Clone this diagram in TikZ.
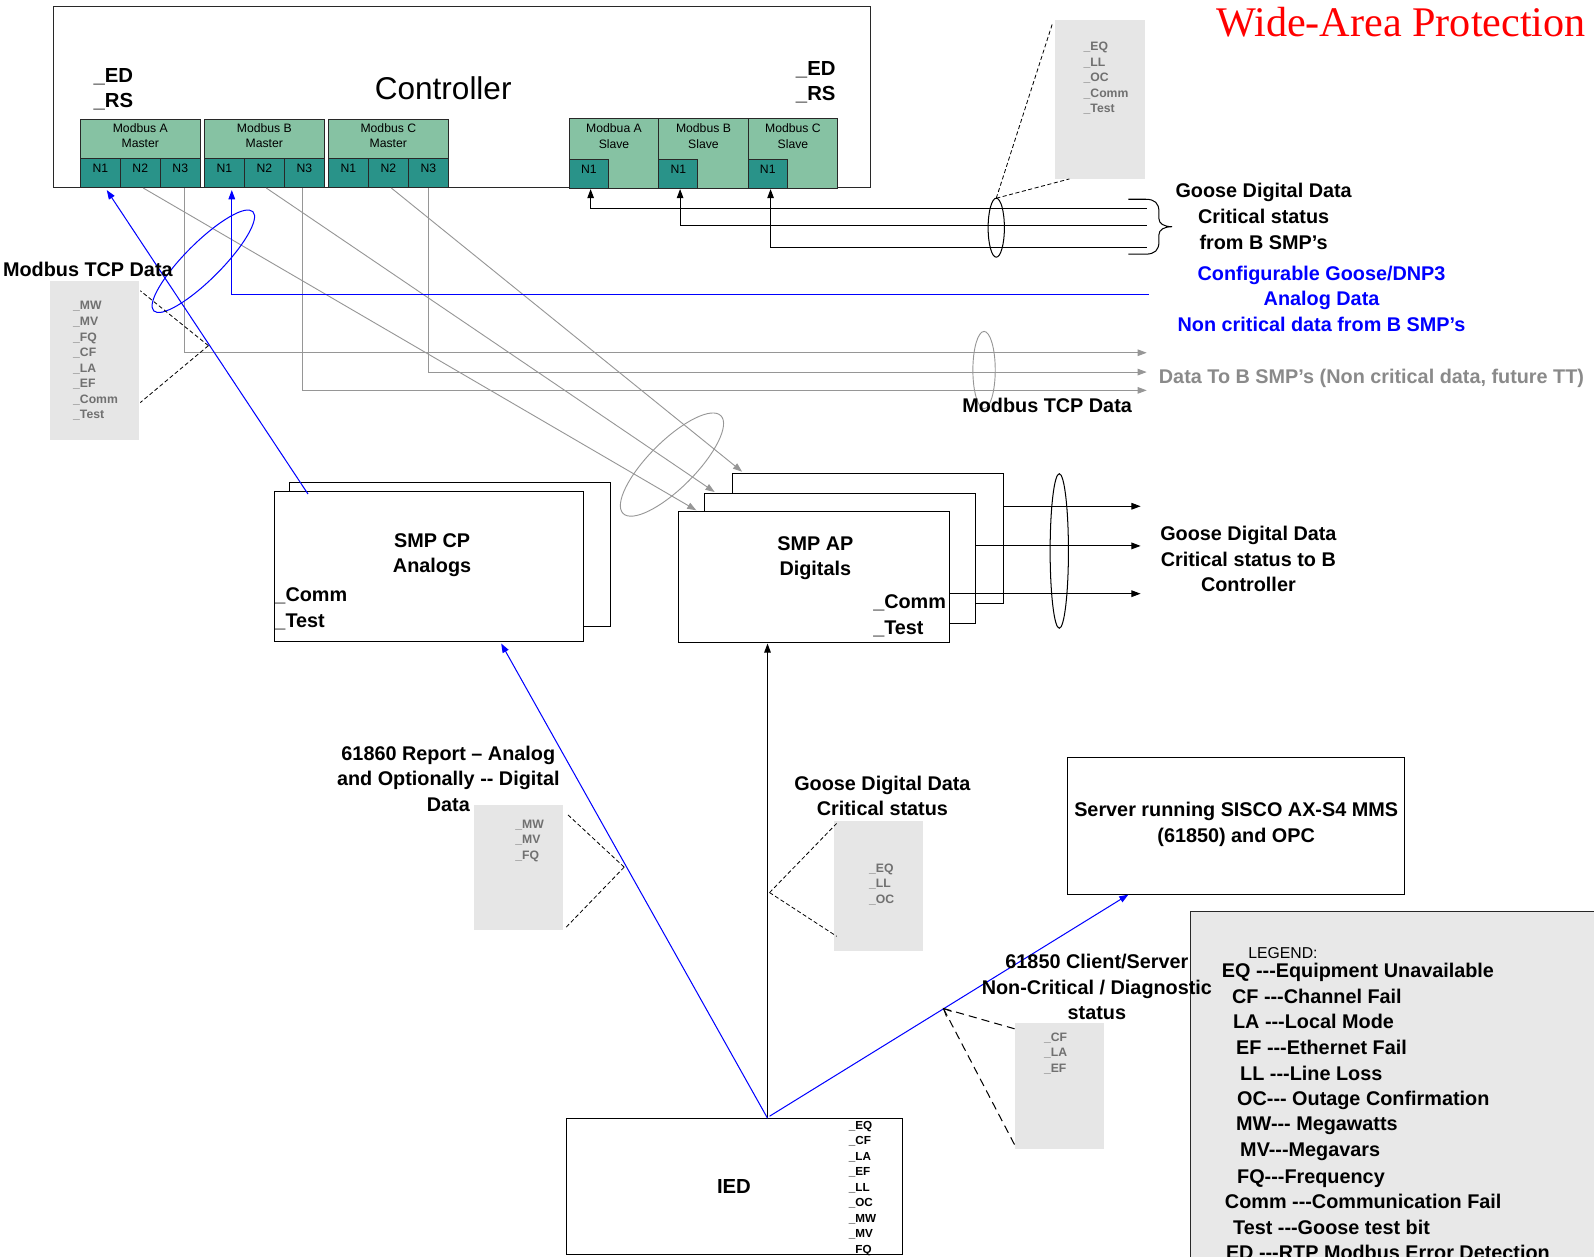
\documentclass[tikz,border=0pt]{standalone}
\usepackage{fontspec}
\setmainfont{Liberation Sans}
\newfontfamily\serifTitle{Liberation Serif}
\usetikzlibrary{arrows.meta,calc}
\definecolor{hdrgreen}{RGB}{134,194,163}
\definecolor{cellteal}{RGB}{41,147,137}
\definecolor{boxgray}{RGB}{230,230,230}
\definecolor{legendgray}{RGB}{232,232,232}
\definecolor{txtgray}{RGB}{112,112,112}
\definecolor{linegray}{RGB}{150,150,150}
\definecolor{datagray}{RGB}{138,138,138}
\definecolor{edgedark}{RGB}{40,40,40}
\newcommand\fLbl{\bfseries\fontsize{19.5}{25.3}\selectfont}
\newcommand\fTiny{\bfseries\fontsize{12}{15.3}\selectfont}
\newcommand\fMod{\fontsize{12}{15}\selectfont}
\begin{document}
\begin{tikzpicture}[x=1pt,y=-1pt,
  every node/.style={inner sep=0pt,outer sep=0pt},
  bx/.style={draw=black,line width=1pt,fill=white,anchor=north west},
  gbx/.style={fill=boxgray,draw=none,anchor=north west},
  hdr/.style={draw=edgedark,line width=0.9pt,fill=hdrgreen,anchor=north west,font=\fMod,align=center,text depth=7pt},
  ncell/.style={draw=edgedark,line width=0.9pt,fill=cellteal,anchor=north west,font=\fMod,minimum width=39.33,minimum height=28,text height=8.6pt,text depth=10pt},
  lbl/.style={font=\fLbl,align=center},
  leg/.style={font=\fLbl,anchor=base west},
  tiny/.style={font=\fTiny,align=left,text=txtgray,anchor=west},
  gline/.style={draw=linegray,line width=0.9pt},
  kline/.style={draw=black,line width=1pt},
  bline/.style={draw=blue,line width=1pt},
  tip/.style={-{Triangle[length=9pt,width=6.5pt]}},
  dsh/.style={draw=black,line width=0.8pt,dash pattern=on 4pt off 2.5pt},
  dshl/.style={draw=black,line width=1pt,dash pattern=on 8pt off 5pt},
]
\useasboundingbox (0,0) rectangle (1568,1236);
\clip (0,0) rectangle (1568,1236);

% ---------- gray annotation boxes and legend ----------
\node[gbx,minimum width=88,minimum height=156] (gTR) at (1038,20) {};
\node[gbx,minimum width=88,minimum height=157] (gTL) at (49,276) {};
\node[gbx,minimum width=88,minimum height=123] (gRep) at (466,792) {};
\node[gbx,minimum width=88,minimum height=127] (gGoose) at (820,808) {};
\node[gbx,minimum width=88,minimum height=124] (gCS) at (998,1006) {};
\node[draw=edgedark,line width=1pt,fill=legendgray,anchor=north west,minimum width=450,minimum height=400] (legend) at (1171,897) {};

% ---------- controller ----------
\node[draw=edgedark,line width=1pt,anchor=north west,minimum width=803,minimum height=178] (ctrl) at (53,6) {};
\node[font=\fontsize{31}{36}\selectfont] (ctrlT) at (436,87) {Controller};
\node[font=\bfseries\fontsize{20}{25}\selectfont,align=left,anchor=west] (edL) at (92,88) {\_ED\\\_RS};
\node[font=\bfseries\fontsize{20}{25}\selectfont,align=left,anchor=west] (edR) at (783,81) {\_ED\\\_RS};

\foreach \n/\x/\lab in {a/79/A,b/201/B,c/323/C}{
  \node[hdr,minimum width=118,minimum height=38] (m\n) at (\x,118) {Modbus \lab\\Master};
  \node[ncell] (m\n1) at (\x,156) {N1};
  \node[ncell] (m\n2) at ({\x+39.33},156) {N2};
  \node[ncell] (m\n3) at ({\x+78.67},156) {N3};
}
\foreach \n/\x/\lab in {a/560/Modbua A,b/648/Modbus B,c/736/Modbus C}{
  \node[hdr,minimum width=88,minimum height=68] (s\n) at (\x,117) {};
  \node[font=\fMod,align=center] (st\n) at ({\x+44},134) {\lab\\Slave};
  \node[ncell,minimum width=38.5] (s\n1) at (\x,157) {N1};
}

% ---------- title ----------
\node[font=\serifTitle\fontsize{41.5}{45}\selectfont,text=red,anchor=base east] (title) at (1560,36) {Wide-Area Protection};

% ---------- SMP, server, IED boxes ----------
\node[bx,minimum width=316,minimum height=141] (cpB) at (285,475) {};
\node[bx,minimum width=304,minimum height=148] (cp) at (270,483) {};
\node[bx,minimum width=266,minimum height=128] (apC) at (721,466) {};
\node[bx,minimum width=267,minimum height=128] (apB) at (693,485) {};
\node[bx,minimum width=267,minimum height=129] (ap) at (667,503) {};
\node[bx,minimum width=332,minimum height=135] (srv) at (1050,745) {};
\node[bx,minimum width=331,minimum height=134] (ied) at (557,1100) {};

% ---------- coordinates for connector ends ----------
\coordinate (iedTop) at (755,1100);
\coordinate (iedTopR) at (757,1098);
\coordinate (cpIn) at (493,633);
\coordinate (apIn) at (755,633);
\coordinate (srvIn) at (1110,880);
\coordinate (cpOut) at (303,486);
\coordinate (maIn) at (105,187);
\coordinate (mbIn) at (228,187);
\coordinate (blueEnd) at (1130,290);

% ---------- gray Modbus TCP data lines ----------
\draw[gline,tip] (181,185) |- (1128,347);
\draw[gline,tip] (421,185) |- (1128,366);
\draw[gline,tip] (298,185) |- (1128,384);
\draw[gline,tip] (141,185) -- (685,502);
\draw[gline,tip] (262,185) -- (703,484);
\draw[gline,tip] (385,185) -- (730,464);
\draw[gline] (968,364) ellipse [x radius=11, y radius=38];
\draw[gline,rotate around={45:(661,457)}] (661,457) ellipse [x radius=68, y radius=23];

% ---------- blue lines ----------
\draw[bline,tip] (cpOut) -- (maIn);
\draw[bline,tip] (blueEnd) -| (mbIn);
\draw[bline,rotate around={45:(200,257)}] (200,257) ellipse [x radius=69, y radius=18];

% ---------- black lines to slaves ----------
\draw[kline,tip] (1128,205) -| (581,186);
\draw[kline,tip] (1128,222) -| (669,186);
\draw[kline,tip] (1128,243) -| (758,186);
\draw[kline] (980,224) ellipse [x radius=8, y radius=29];
\draw[kline] (1110,196) -- (1127,196) .. controls (1136,196) and (1140,200) .. (1140,208) -- (1140,215) .. controls (1140,220) and (1145,223) .. (1153,223) .. controls (1145,223) and (1140,226) .. (1140,231) -- (1140,238) .. controls (1140,246) and (1136,250) .. (1127,250) -- (1110,250);

% ---------- SMP AP outputs ----------
\draw[kline,tip] (apC.east |- 0,498) -- (1122,498);
\draw[kline,tip] (apB.east |- 0,537) -- (1122,537);
\draw[kline,tip] (ap.east |- 0,584) -- (1122,584);
\draw[kline] (1042,542) ellipse [x radius=9, y radius=76];

% ---------- IED connectors ----------
\draw[kline,tip] (iedTop) -- (apIn);
\draw[bline,tip] (iedTop) -- (cpIn);
\draw[bline,tip] (iedTopR) -- (srvIn);

% ---------- dashed callouts ----------
\coordinate (cTR) at (980,195);
\draw[dsh] (cTR) -- (1035,24);
\draw[dsh] (cTR) -- (1052,176);
\coordinate (cTL) at (205,340);
\draw[dsh] (cTL) -- (138,286);
\draw[dsh] (cTL) -- (138,396);
\coordinate (cRep) at (614,853);
\draw[dsh] (cRep) -- (557,800);
\draw[dsh] (cRep) -- (557,912);
\coordinate (cGo) at (757,878);
\draw[dsh] (cGo) -- (823,810);
\draw[dsh] (cGo) -- (823,921);
\coordinate (cCS) at (928,992);
\draw[dshl] (cCS) -- (998,1012);
\draw[dshl] (cCS) -- (998,1126);
\draw[kline,line width=0.8pt] (931,1000) -- (928,992) -- (936,995);

% ---------- gray box texts ----------
\node[tiny] (tTR) at (1066,77) {\_EQ\\\_LL\\\_OC\\\_Comm\\\_Test};
\node[tiny] (tTL) at (72,355) {\_MW\\\_MV\\\_FQ\\\_CF\\\_LA\\\_EF\\\_Comm\\\_Test};
\node[tiny] (tRep) at (507,827) {\_MW\\\_MV\\\_FQ};
\node[tiny] (tGo) at (855,870) {\_EQ\\\_LL\\\_OC};
\node[tiny] (tCS) at (1027,1036) {\_CF\\\_LA\\\_EF};
\node[tiny,text=black,font=\bfseries\fontsize{11.5}{15.2}\selectfont] (tIED) at (835,1169) {\_EQ\\\_CF\\\_LA\\\_EF\\\_LL\\\_OC\\\_MW\\\_MV\\\_FQ};

% ---------- labels ----------
\node[lbl] (lGoTop) at (1243,213) {Goose Digital Data\\Critical status\\from B SMP’s};
\node[lbl,text=blue] (lBlue) at (1300,294) {Configurable Goose/DNP3\\Analog Data\\Non critical data from B SMP’s};
\node[font=\fLbl,text=datagray,anchor=base west] (lData) at (1140,377) {Data To B SMP’s (Non critical data, future TT)};
\node[font=\fLbl,anchor=base] (lTcpR) at (1030,406) {Modbus TCP Data};
\node[font=\fLbl,anchor=base west] (lTcpL) at (3,272) {Modbus TCP Data};
\node[lbl] (lCP) at (425,546) {SMP CP\\Analogs};
\node[font=\fLbl,align=left,anchor=west] (lCPc) at (270,599) {\_Comm\\\_Test};
\node[lbl] (lAP) at (802,549) {SMP AP\\Digitals};
\node[font=\fLbl,align=left,anchor=west] (lAPc) at (859,606) {\_Comm\\\_Test};
\node[lbl] (lGoB) at (1228,550) {Goose Digital Data\\Critical status to B\\Controller};
\node[lbl] (lRep) at (441,766) {61860 Report – Analog\\and Optionally -{}- Digital\\Data};
\node[lbl] (lGoC) at (868,783) {Goose Digital Data\\Critical status};
\node[lbl] (lSrv) at (1216,811) {Server running SISCO AX-S4 MMS\\(61850) and OPC};
\node[lbl] (lCS) at (1079,971) {61850 Client/Server\\Non-Critical / Diagnostic\\status};
\node[font=\bfseries\fontsize{20}{24}\selectfont] (lIED) at (722,1167) {IED};

% ---------- legend ----------
\node[anchor=base west,font=\fontsize{15.5}{18}\selectfont] (legT) at (1228,943) {LEGEND:};
\node[leg] (l1) at (1202,962) {EQ -{}-{}-Equipment Unavailable};
\node[leg] (l2) at (1212,987) {CF -{}-{}-Channel Fail};
\node[leg] (l3) at (1213,1012) {LA -{}-{}-Local Mode};
\node[leg] (l4) at (1216,1037) {EF -{}-{}-Ethernet Fail};
\node[leg] (l5) at (1220,1063) {LL -{}-{}-Line Loss};
\node[leg] (l6) at (1217,1087) {OC-{}-{}- Outage Confirmation};
\node[leg] (l7) at (1216,1112) {MW-{}-{}- Megawatts};
\node[leg] (l8) at (1220,1138) {MV-{}-{}-Megavars};
\node[leg] (l9) at (1217,1164) {FQ-{}-{}-Frequency};
\node[leg] (l10) at (1205,1189) {Comm -{}-{}-Communication Fail};
\node[leg] (l11) at (1213,1214) {Test -{}-{}-Goose test bit};
\node[leg] (l12) at (1206,1239) {ED -{}-{}-RTP Modbus Error Detection};
\end{tikzpicture}
\end{document}
